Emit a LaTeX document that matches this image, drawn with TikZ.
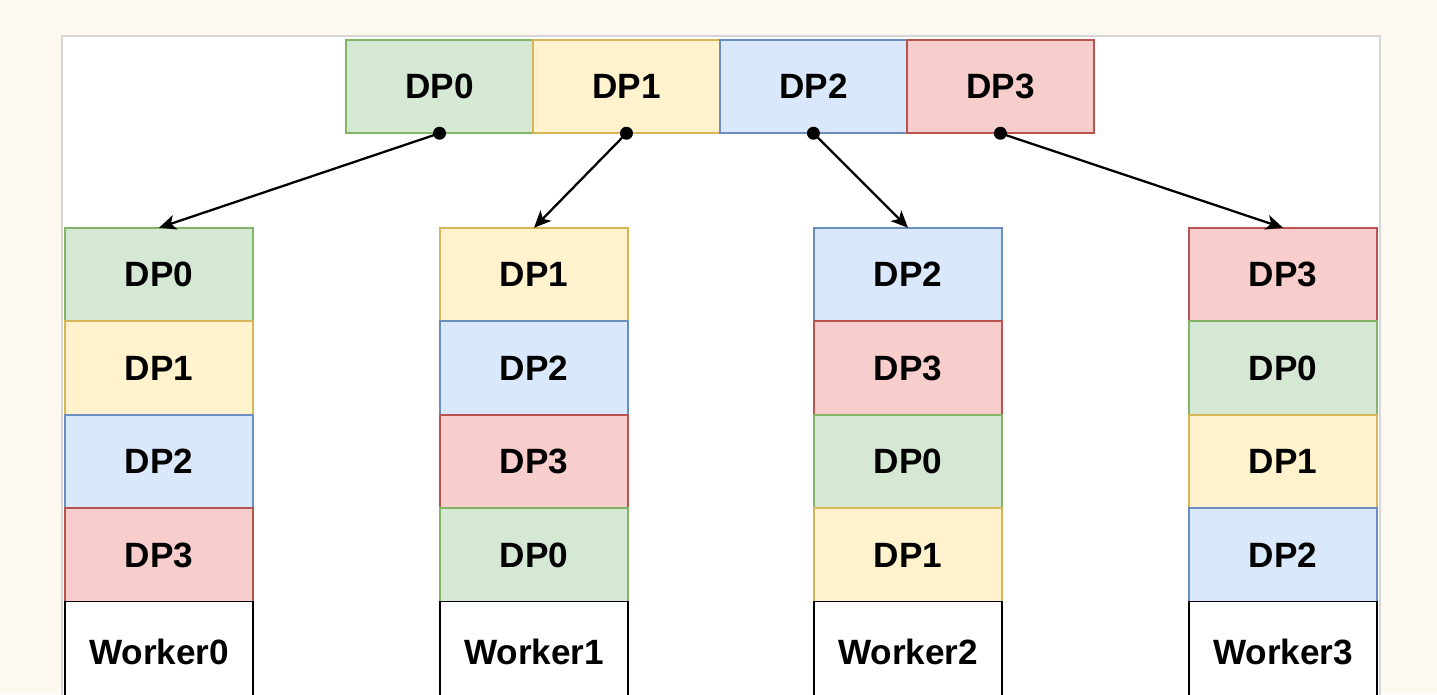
\documentclass[tikz,border=0pt]{standalone}
\usepackage{fontspec}
\setmainfont{Liberation Sans}
\usepackage{tikz}
\usetikzlibrary{arrows.meta,positioning}
\usepackage{xcolor}

\definecolor{cream}{HTML}{FEF9F0}
\definecolor{panelgray}{HTML}{D6D6D6}
\definecolor{greenfill}{HTML}{D5E8D4}
\definecolor{greenline}{HTML}{82B366}
\definecolor{yellowfill}{HTML}{FFF2CC}
\definecolor{yellowline}{HTML}{D6B656}
\definecolor{bluefill}{HTML}{DAE8FC}
\definecolor{blueline}{HTML}{6C8EBF}
\definecolor{redfill}{HTML}{F8CECC}
\definecolor{redline}{HTML}{B85450}

\tikzset{
  cell/.style={draw, line width=0.9pt, outer sep=0pt, inner sep=0pt,
    minimum width=3.76cm, minimum height=1.87cm,
    font=\bfseries\fontsize{20}{24}\selectfont},
  dpzero/.style={cell, fill=greenfill, draw=greenline},
  dpone/.style={cell, fill=yellowfill, draw=yellowline},
  dptwo/.style={cell, fill=bluefill, draw=blueline},
  dpthree/.style={cell, fill=redfill, draw=redline},
  topcell/.style={minimum width=3.74cm},
  workerbox/.style={cell, fill=white, draw=black, minimum height=2.0cm},
  conn/.style={-{Stealth[length=0.34cm, width=0.3cm, inset=0.09cm]}, line width=1.3pt},
}

\begin{document}
\begin{tikzpicture}[x=0.02cm, y=-0.02cm]
            \useasboundingbox (0,0) rectangle (1437,694);
            \clip (0,0) rectangle (1437,694);
            \fill[cream] (0,0) rectangle (1437,694);
            \draw[panelgray, fill=white, line width=0.8pt] (62,36) rectangle (1380,760);

            % Data split on top
            \node[dpzero, topcell] (top0) at (439.5,86.5) {DP0};
            \node[dpone, topcell, right=0pt of top0] (top1) {DP1};
            \node[dptwo, topcell, right=0pt of top1] (top2) {DP2};
            \node[dpthree, topcell, right=0pt of top2] (top3) {DP3};

            % Worker 0
            \node[dpzero] (w0a) at (159,274.5) {DP0};
            \node[dpone, below=0pt of w0a] (w0b) {DP1};
            \node[dptwo, below=0pt of w0b] (w0c) {DP2};
            \node[dpthree, below=0pt of w0c] (w0d) {DP3};
            \node[workerbox, below=0pt of w0d] (w0) {Worker0};

            % Worker 1
            \node[dpone] (w1a) at (534,274.5) {DP1};
            \node[dptwo, below=0pt of w1a] (w1b) {DP2};
            \node[dpthree, below=0pt of w1b] (w1c) {DP3};
            \node[dpzero, below=0pt of w1c] (w1d) {DP0};
            \node[workerbox, below=0pt of w1d] (w1) {Worker1};

            % Worker 2
            \node[dptwo] (w2a) at (908,274.5) {DP2};
            \node[dpthree, below=0pt of w2a] (w2b) {DP3};
            \node[dpzero, below=0pt of w2b] (w2c) {DP0};
            \node[dpone, below=0pt of w2c] (w2d) {DP1};
            \node[workerbox, below=0pt of w2d] (w2) {Worker2};

            % Worker 3
            \node[dpthree] (w3a) at (1283,274.5) {DP3};
            \node[dpzero, below=0pt of w3a] (w3b) {DP0};
            \node[dpone, below=0pt of w3b] (w3c) {DP1};
            \node[dptwo, below=0pt of w3c] (w3d) {DP2};
            \node[workerbox, below=0pt of w3d] (w3) {Worker3};

            % Scatter arrows
            \draw[conn] (top0.south) -- (w0a.north);
            \draw[conn] (top1.south) -- (w1a.north);
            \draw[conn] (top2.south) -- (w2a.north);
            \draw[conn] (top3.south) -- (w3a.north);
            \foreach \t in {top0,top1,top2,top3}
                \fill (\t.south) circle[radius=0.13cm];
        \end{tikzpicture}
\end{document}
